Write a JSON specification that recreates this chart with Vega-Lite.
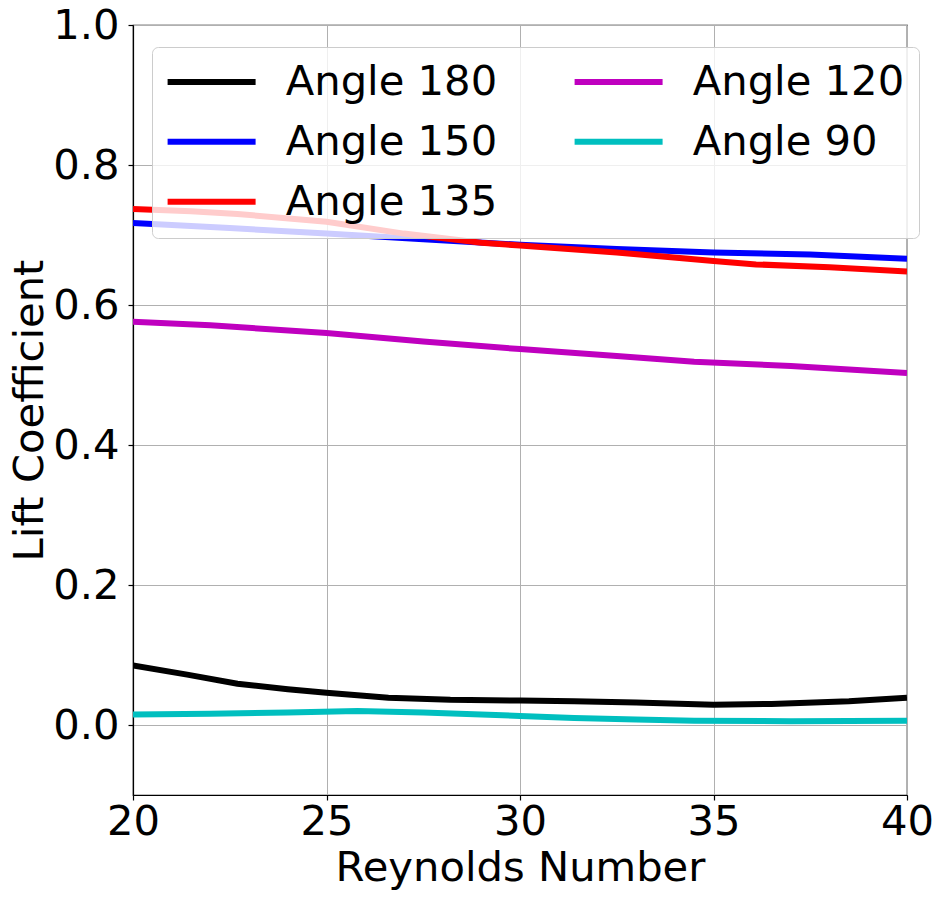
{
  "$schema": "https://vega.github.io/schema/vega-lite/v6.json",
  "autosize": "none",
  "padding": {"left": 133, "top": 25, "right": 36, "bottom": 105},
  "width": 774,
  "height": 770,
  "background": "white",
  "config": {
    "font": "DejaVu Sans",
    "view": {"stroke": "black", "strokeWidth": 1.2},
    "axis": {
      "domainColor": "black",
      "domainWidth": 1.2,
      "tickColor": "black",
      "tickSize": 5,
      "tickWidth": 1.2,
      "labelFont": "DejaVu Sans",
      "labelFontSize": 41.7,
      "labelColor": "black",
      "labelFlush": false,
      "labelOverlap": false,
      "titleFont": "DejaVu Sans",
      "titleFontSize": 41.7,
      "titleFontWeight": "normal",
      "titleColor": "black",
      "gridColor": "#b0b0b0",
      "gridWidth": 1,
      "gridOpacity": 1
    }
  },
  "data": {
    "values": [
      {"re": 20, "angle": "Angle 180", "cl": 0.085},
      {"re": 21.4, "angle": "Angle 180", "cl": 0.072},
      {"re": 22.7, "angle": "Angle 180", "cl": 0.059},
      {"re": 24, "angle": "Angle 180", "cl": 0.051},
      {"re": 25, "angle": "Angle 180", "cl": 0.046},
      {"re": 26.6, "angle": "Angle 180", "cl": 0.039},
      {"re": 28.2, "angle": "Angle 180", "cl": 0.036},
      {"re": 30, "angle": "Angle 180", "cl": 0.035},
      {"re": 31.4, "angle": "Angle 180", "cl": 0.034},
      {"re": 33, "angle": "Angle 180", "cl": 0.032},
      {"re": 35, "angle": "Angle 180", "cl": 0.029},
      {"re": 36.5, "angle": "Angle 180", "cl": 0.030},
      {"re": 38.5, "angle": "Angle 180", "cl": 0.034},
      {"re": 40, "angle": "Angle 180", "cl": 0.039},
      {"re": 20, "angle": "Angle 150", "cl": 0.717},
      {"re": 22.5, "angle": "Angle 150", "cl": 0.710},
      {"re": 25, "angle": "Angle 150", "cl": 0.702},
      {"re": 27.5, "angle": "Angle 150", "cl": 0.694},
      {"re": 30, "angle": "Angle 150", "cl": 0.686},
      {"re": 32.5, "angle": "Angle 150", "cl": 0.680},
      {"re": 35, "angle": "Angle 150", "cl": 0.675},
      {"re": 37.5, "angle": "Angle 150", "cl": 0.672},
      {"re": 40, "angle": "Angle 150", "cl": 0.666},
      {"re": 20, "angle": "Angle 135", "cl": 0.737},
      {"re": 21.5, "angle": "Angle 135", "cl": 0.734},
      {"re": 22.7, "angle": "Angle 135", "cl": 0.730},
      {"re": 25, "angle": "Angle 135", "cl": 0.719},
      {"re": 27, "angle": "Angle 135", "cl": 0.702},
      {"re": 29, "angle": "Angle 135", "cl": 0.689},
      {"re": 30, "angle": "Angle 135", "cl": 0.685},
      {"re": 32.5, "angle": "Angle 135", "cl": 0.675},
      {"re": 35, "angle": "Angle 135", "cl": 0.663},
      {"re": 36.1, "angle": "Angle 135", "cl": 0.658},
      {"re": 38, "angle": "Angle 135", "cl": 0.654},
      {"re": 40, "angle": "Angle 135", "cl": 0.648},
      {"re": 20, "angle": "Angle 120", "cl": 0.576},
      {"re": 22, "angle": "Angle 120", "cl": 0.571},
      {"re": 25, "angle": "Angle 120", "cl": 0.560},
      {"re": 27.5, "angle": "Angle 120", "cl": 0.548},
      {"re": 30, "angle": "Angle 120", "cl": 0.537},
      {"re": 32.5, "angle": "Angle 120", "cl": 0.527},
      {"re": 34.5, "angle": "Angle 120", "cl": 0.519},
      {"re": 37, "angle": "Angle 120", "cl": 0.513},
      {"re": 40, "angle": "Angle 120", "cl": 0.503},
      {"re": 20, "angle": "Angle 90", "cl": 0.015},
      {"re": 22, "angle": "Angle 90", "cl": 0.016},
      {"re": 24, "angle": "Angle 90", "cl": 0.018},
      {"re": 25.8, "angle": "Angle 90", "cl": 0.020},
      {"re": 27.5, "angle": "Angle 90", "cl": 0.018},
      {"re": 30, "angle": "Angle 90", "cl": 0.013},
      {"re": 31.4, "angle": "Angle 90", "cl": 0.010},
      {"re": 33, "angle": "Angle 90", "cl": 0.008},
      {"re": 34.5, "angle": "Angle 90", "cl": 0.006},
      {"re": 37, "angle": "Angle 90", "cl": 0.0055},
      {"re": 40, "angle": "Angle 90", "cl": 0.006}
    ]
  },
  "mark": {"type": "line", "strokeWidth": 6, "clip": true},
  "encoding": {
    "x": {
      "field": "re",
      "type": "quantitative",
      "scale": {"domain": [20, 40], "nice": false, "zero": false},
      "axis": {
        "values": [20, 25, 30, 35, 40],
        "labelPadding": 1,
        "title": "Reynolds Number",
        "titleY": 85,
        "titleBaseline": "alphabetic"
      }
    },
    "y": {
      "field": "cl",
      "type": "quantitative",
      "scale": {"domain": [-0.1, 1.0], "nice": false, "zero": false},
      "axis": {
        "values": [0, 0.2, 0.4, 0.6, 0.8, 1.0],
        "format": ".1f",
        "labelPadding": 9,
        "title": "Lift Coefficient",
        "titleX": -91,
        "titleY": 385,
        "titleBaseline": "alphabetic",
        "titleAlign": "center"
      }
    },
    "color": {
      "field": "angle",
      "type": "nominal",
      "scale": {
        "domain": ["Angle 180", "Angle 150", "Angle 135", "Angle 120", "Angle 90"],
        "range": ["#000000", "#0000ff", "#ff0000", "#bf00bf", "#00bfbf"]
      },
      "legend": {
        "orient": "none",
        "legendX": 19,
        "legendY": 22,
        "columns": 2,
        "title": null,
        "fillColor": "rgba(255,255,255,0.8)",
        "strokeColor": "#cccccc",
        "cornerRadius": 6,
        "padding": 14,
        "symbolType": "M-1.75,0H6.25",
        "symbolSize": 484,
        "symbolStrokeWidth": 6,
        "labelFont": "DejaVu Sans",
        "labelFontSize": 41.7,
        "labelColor": "black",
        "labelOffset": 78,
        "labelLimit": 0,
        "rowPadding": 17,
        "columnPadding": 64
      }
    }
  }
}
